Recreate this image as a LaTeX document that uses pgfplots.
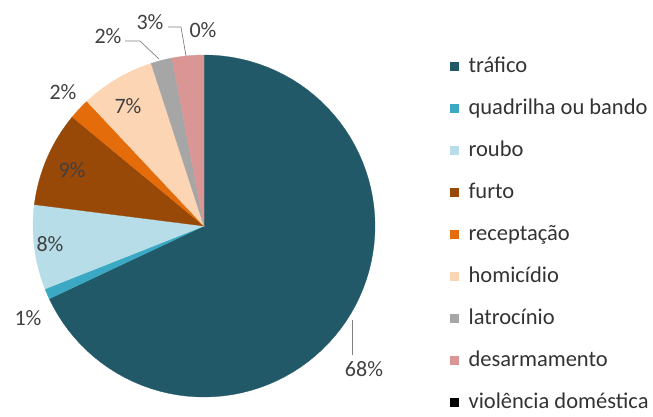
\documentclass[border=0pt]{standalone}
\usepackage{pgfplots}
\pgfplotsset{compat=1.18}
\usepackage{fontspec}
\setmainfont{Carlito}
\definecolor{ctraf}{HTML}{215968}
\definecolor{cquad}{HTML}{3BA9C4}
\definecolor{croub}{HTML}{B7DEE8}
\definecolor{cfurt}{HTML}{984807}
\definecolor{crecp}{HTML}{E46C0A}
\definecolor{chomi}{HTML}{FCD5B5}
\definecolor{clatr}{HTML}{A6A6A6}
\definecolor{cdesa}{HTML}{D99694}
\definecolor{cviol}{HTML}{000000}
\definecolor{lbl}{HTML}{404040}
% slice: cumulative start %, cumulative end %, colour
\newcommand{\slice}[3]{%
  \addplot[draw=#3, line width=0.3pt, fill=#3, domain={90-3.6*(#2)}:{90-3.6*(#1)}, samples=80, forget plot]
    ({204+171*cos(x)},{186+171*sin(x)}) -- (axis cs:204,186) -- cycle;
}
\begin{document}
\begin{tikzpicture}
\begin{axis}[
  width=653pt, height=412pt, scale only axis,
  xmin=0, xmax=653, ymin=0, ymax=412,
  hide axis, clip=false,
  legend cell align=left,
  legend style={at={(axis cs:447,359)}, anchor=north west, draw=none, fill=none,
    font=\fontsize{22.5}{26}\selectfont, text=black!80,
    nodes={inner sep=0pt, text height=17pt, text depth=6pt},
    row sep=19pt, column sep=10pt},
  legend image code/.code={\fill[#1] (0pt,-3.8pt) rectangle (8pt,4.2pt);},
]
\path (axis cs:0,0) rectangle (axis cs:653,412);
% values: trafico 68, quadrilha 1, roubo 8, furto 9, receptacao 2, homicidio 7, latrocinio 2, desarmamento 3, violencia 0
\slice{0}{68}{ctraf}
\slice{68}{69}{cquad}
\slice{69}{77}{croub}
\slice{77}{86}{cfurt}
\slice{86}{88}{crecp}
\slice{88}{95}{chomi}
\slice{95}{97}{clatr}
\slice{97}{100}{cdesa}
\addlegendimage{ctraf}\addlegendentry{tráfico}
\addlegendimage{cquad}\addlegendentry{quadrilha ou bando}
\addlegendimage{croub}\addlegendentry{roubo}
\addlegendimage{cfurt}\addlegendentry{furto}
\addlegendimage{crecp}\addlegendentry{receptação}
\addlegendimage{chomi}\addlegendentry{homicídio}
\addlegendimage{clatr}\addlegendentry{latrocínio}
\addlegendimage{cdesa}\addlegendentry{desarmamento}
\addlegendimage{cviol}\addlegendentry{violência doméstica}
% leader lines
\draw[gray, line width=0.7pt] (axis cs:352,92) -- (axis cs:352,57);
\draw[gray, line width=0.7pt] (axis cs:125,371) -- (axis cs:140,371) -- (axis cs:159,353);
\draw[gray, line width=0.7pt] (axis cs:168,385) -- (axis cs:181,385) -- (axis cs:186,356);
% labels
\begin{scope}[every node/.style={font=\fontsize{22}{26}\selectfont, text=lbl, inner sep=0pt}]
\node at (axis cs:364,43) {68\%};
\node at (axis cs:28,94) {1\%};
\node at (axis cs:50,168) {8\%};
\node at (axis cs:72,242) {9\%};
\node at (axis cs:63,320) {2\%};
\node at (axis cs:128,306) {7\%};
\node at (axis cs:108,376) {2\%};
\node at (axis cs:150,390) {3\%};
\node at (axis cs:203,382) {0\%};
\end{scope}
\end{axis}
\end{tikzpicture}
\end{document}
